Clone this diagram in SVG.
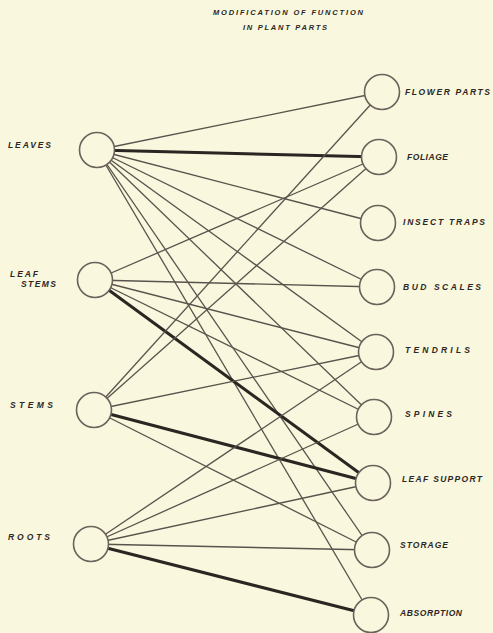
<svg xmlns="http://www.w3.org/2000/svg" width="493" height="633" viewBox="0 0 493 633">
<style>
.bg{fill:#f9f7dd}
.n{fill:#f9f7dd;stroke:#6b625c;stroke-width:1.6}
.e{stroke:#5a524c;stroke-width:1.3;fill:none}
.t{stroke:#2b2622;stroke-width:3;fill:none}
text{font-family:"Liberation Sans",Arial,sans-serif;font-style:italic;font-weight:bold;fill:#2c2724;font-size:8.5px}
.ttl{font-size:7.5px}
</style>
<rect class="bg" x="0" y="0" width="493" height="633"/>
<g id="title">
<text class="ttl" x="213" y="15" textLength="150" lengthAdjust="spacing">MODIFICATION OF FUNCTION</text>
<text class="ttl" x="243" y="30" textLength="84" lengthAdjust="spacing">IN PLANT PARTS</text>
</g>
<g id="connectors">
<line class="e" x1="97" y1="150" x2="382" y2="92"/>
<line class="t" x1="97" y1="150" x2="379" y2="157"/>
<line class="e" x1="97" y1="150" x2="378" y2="223"/>
<line class="e" x1="97" y1="150" x2="377" y2="287"/>
<line class="e" x1="97" y1="150" x2="376" y2="352"/>
<line class="e" x1="97" y1="150" x2="374" y2="417"/>
<line class="e" x1="97" y1="150" x2="372" y2="550"/>
<line class="e" x1="97" y1="150" x2="371" y2="615"/>
<line class="e" x1="95" y1="280" x2="379" y2="157"/>
<line class="e" x1="95" y1="280" x2="377" y2="287"/>
<line class="e" x1="95" y1="280" x2="376" y2="352"/>
<line class="e" x1="95" y1="280" x2="374" y2="417"/>
<line class="t" x1="95" y1="280" x2="373" y2="483"/>
<line class="e" x1="94" y1="410" x2="382" y2="92"/>
<line class="e" x1="94" y1="410" x2="379" y2="157"/>
<line class="e" x1="94" y1="410" x2="376" y2="352"/>
<line class="t" x1="94" y1="410" x2="373" y2="483"/>
<line class="e" x1="94" y1="410" x2="372" y2="550"/>
<line class="e" x1="91" y1="544" x2="376" y2="352"/>
<line class="e" x1="91" y1="544" x2="374" y2="417"/>
<line class="e" x1="91" y1="544" x2="373" y2="483"/>
<line class="e" x1="91" y1="544" x2="372" y2="550"/>
<line class="t" x1="91" y1="544" x2="371" y2="615"/>
</g>
<g id="leaves"><circle class="n" cx="97" cy="150" r="17.5"/><text x="8" y="148" textLength="43" lengthAdjust="spacing">LEAVES</text></g>
<g id="leaf-stems"><circle class="n" cx="95" cy="280" r="17.5"/><text x="10" y="277" textLength="28" lengthAdjust="spacing">LEAF</text><text x="21" y="287" textLength="35" lengthAdjust="spacing">STEMS</text></g>
<g id="stems"><circle class="n" cx="94" cy="410" r="17.5"/><text x="10" y="408" textLength="43" lengthAdjust="spacing">STEMS</text></g>
<g id="roots"><circle class="n" cx="91" cy="544" r="17.5"/><text x="8" y="540" textLength="42" lengthAdjust="spacing">ROOTS</text></g>
<g id="flower-parts"><circle class="n" cx="382" cy="92" r="17.5"/><text x="405" y="95" textLength="85" lengthAdjust="spacing">FLOWER PARTS</text></g>
<g id="foliage"><circle class="n" cx="379" cy="157" r="17.5"/><text x="407" y="160" textLength="41" lengthAdjust="spacing">FOLIAGE</text></g>
<g id="insect-traps"><circle class="n" cx="378" cy="223" r="17.5"/><text x="403" y="225" textLength="82" lengthAdjust="spacing">INSECT TRAPS</text></g>
<g id="bud-scales"><circle class="n" cx="377" cy="287" r="17.5"/><text x="403" y="290" textLength="78" lengthAdjust="spacing">BUD SCALES</text></g>
<g id="tendrils"><circle class="n" cx="376" cy="352" r="17.5"/><text x="405" y="353" textLength="65" lengthAdjust="spacing">TENDRILS</text></g>
<g id="spines"><circle class="n" cx="374" cy="417" r="17.5"/><text x="405" y="417" textLength="47" lengthAdjust="spacing">SPINES</text></g>
<g id="leaf-support"><circle class="n" cx="373" cy="483" r="17.5"/><text x="402" y="482" textLength="80" lengthAdjust="spacing">LEAF SUPPORT</text></g>
<g id="storage"><circle class="n" cx="372" cy="550" r="17.5"/><text x="400" y="548" textLength="48" lengthAdjust="spacing">STORAGE</text></g>
<g id="absorption"><circle class="n" cx="371" cy="615" r="17.5"/><text x="400" y="616" textLength="62" lengthAdjust="spacing">ABSORPTION</text></g>
</svg>
